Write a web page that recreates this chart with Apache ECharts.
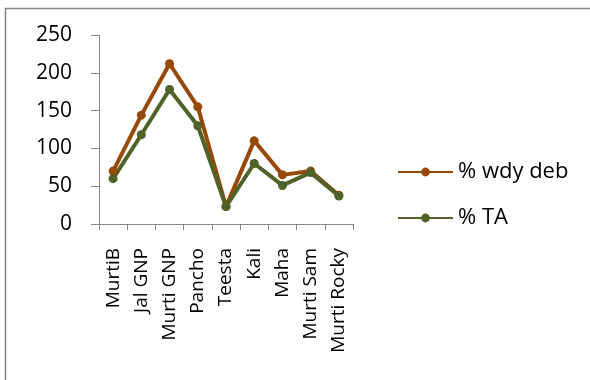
<!DOCTYPE html>
<html>
<head>
<meta charset="utf-8">
<script src="https://cdn.jsdelivr.net/npm/echarts@6/dist/echarts.min.js"></script>
<style>
  html, body { margin: 0; padding: 0; background: #fff; }
  #chart { width: 590px; height: 380px; }
</style>
</head>
<body>
<div id="chart"></div>
<script>
// Sites along the x axis
const categories = ['MurtiB', 'Jal GNP', 'Murti GNP', 'Pancho', 'Teesta', 'Kali', 'Maha', 'Murti Sam', 'Murti Rocky'];
// Percentage series
const wdyDeb = [70, 144, 212, 155, 23, 110, 65, 70, 38];
const ta = [60, 118, 178, 130, 23, 80, 51, 68, 37];
const seriesNames = ['% wdy deb', '% TA'];
// Value axis ticks
const yMin = 0, yMax = 250, yStep = 50;

const FONT = '"Open Sans", "Liberation Sans", sans-serif';
const AXIS_GRAY = '#868686';
const BROWN = '#984807';
const GREEN = '#4F6228';

const chart = echarts.init(document.getElementById('chart'), null, { renderer: 'canvas' });

function lineSeries(name, data, color) {
  return {
    name: name,
    type: 'line',
    data: data,
    symbol: 'circle',
    symbolSize: 9,
    lineStyle: { color: color, width: 4 },
    itemStyle: { color: color },
    emphasis: { disabled: true },
    animation: false
  };
}

chart.setOption({
  backgroundColor: '#fff',
  animation: false,
  graphic: [{
    type: 'rect',
    left: 3, top: 6,
    shape: { width: 700, height: 500 },
    style: { fill: 'none', stroke: AXIS_GRAY, lineWidth: 1.5 },
    silent: true
  }],
  grid: { left: 99, top: 35, right: 237, bottom: 156, containLabel: false },
  legend: {
    orient: 'vertical',
    left: 392, top: 156,
    itemWidth: 55, itemHeight: 11, itemGap: 24,
    textStyle: { fontFamily: FONT, fontSize: 22, color: '#000' },
    data: seriesNames
  },
  xAxis: {
    type: 'category',
    data: categories,
    boundaryGap: true,
    axisLine: { lineStyle: { color: AXIS_GRAY, width: 1 } },
    axisTick: { show: true, length: 6, alignWithLabel: false, lineStyle: { color: AXIS_GRAY } },
    axisLabel: {
      rotate: 90, margin: 24, interval: 0,
      fontFamily: FONT, fontSize: 19, color: '#000'
    },
    splitLine: { show: false }
  },
  yAxis: {
    type: 'value',
    min: yMin, max: yMax, interval: yStep,
    axisLine: { show: true, lineStyle: { color: AXIS_GRAY, width: 1 } },
    axisTick: { show: true, length: 8, lineStyle: { color: AXIS_GRAY } },
    axisLabel: { margin: 27, fontFamily: FONT, fontSize: 21, color: '#000' },
    splitLine: { show: false }
  },
  series: [
    lineSeries(seriesNames[0], wdyDeb, BROWN),
    lineSeries(seriesNames[1], ta, GREEN)
  ]
});
</script>
</body>
</html>
